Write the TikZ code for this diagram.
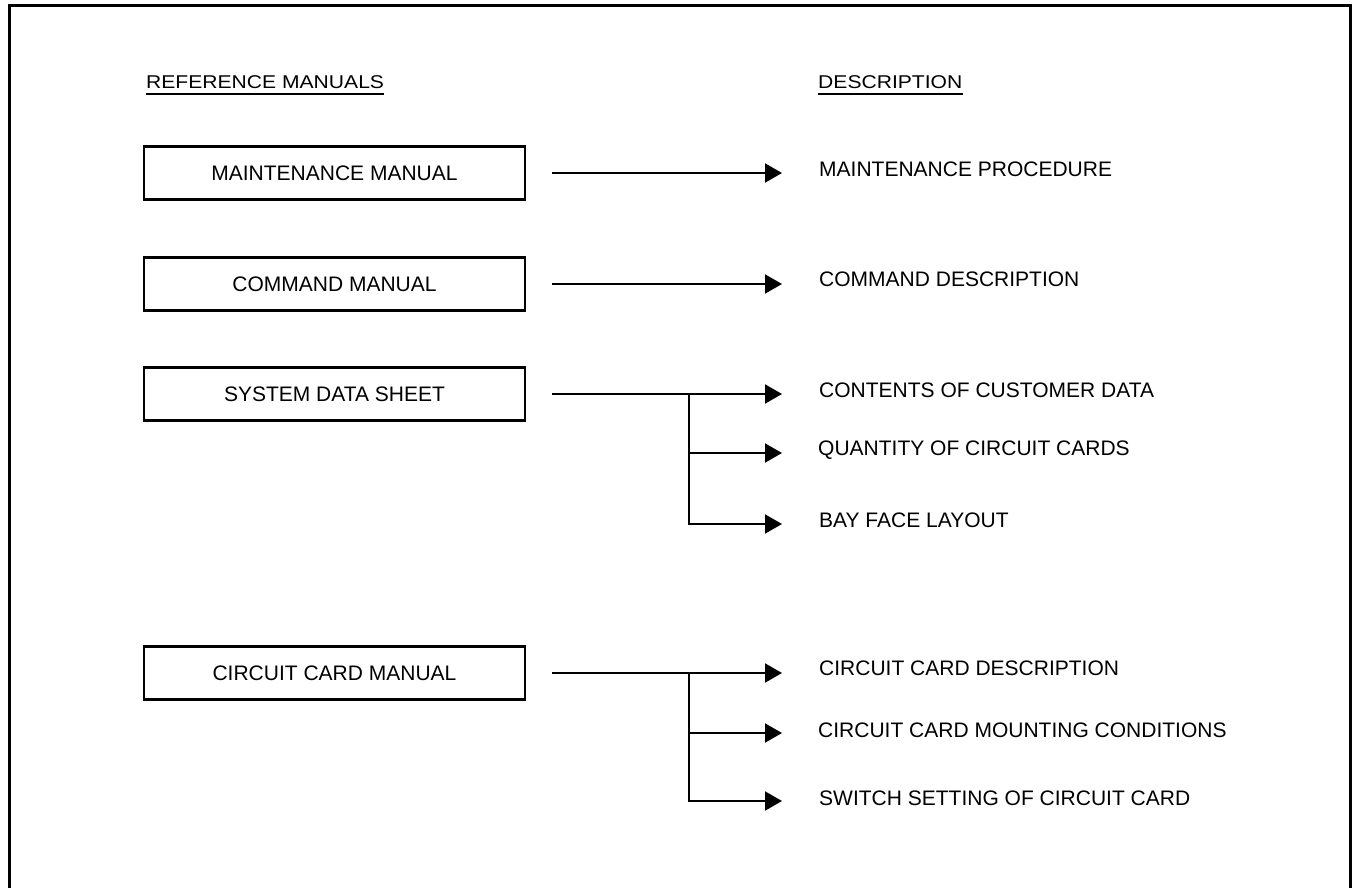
\documentclass[tikz,border=0pt]{standalone}
\usepackage{fontspec}
\setmainfont{Liberation Sans}
\newfontfamily\hdrfont[FakeStretch=1.14]{Liberation Sans}
\usetikzlibrary{arrows.meta}

\tikzset{
  manualbox/.style={draw, line width=2.4pt, minimum width=381pt, minimum height=53pt,
    inner sep=0pt, font=\fontsize{21}{25}\selectfont},
  desc/.style={anchor=west, inner sep=0pt, font=\fontsize{21}{25}\selectfont},
  header/.style={anchor=base west, inner sep=0pt, font=\hdrfont\fontsize{18.5}{22}\selectfont},
  conn/.style={line width=2pt, -{Triangle[length=17pt,width=19pt]}},
  trunk/.style={line width=2pt},
  frame/.style={line width=3pt}
}

\begin{document}
\begin{tikzpicture}[x=1pt, y=-1pt]
  \useasboundingbox (0,0) rectangle (1354,888);
  \clip (0,0) rectangle (1354,888);

  % open frame around the chart
  \draw[frame] (9,895) -- (9,6) -- (1350,6) -- (1350,895);

  % column headings
  \node[header] (hleft) at (146,89) {REFERENCE MANUALS};
  \node[header] (hright) at (818,89) {DESCRIPTION};
  \draw[line width=1.4pt] ([yshift=-5pt]hleft.base west) -- ([yshift=-5pt]hleft.base east);
  \draw[line width=1.4pt] ([yshift=-5pt]hright.base west) -- ([yshift=-5pt]hright.base east);

  % manuals
  \node[manualbox] (mm) at (334.5,173) {MAINTENANCE MANUAL};
  \node[manualbox] (cm) at (334.5,284) {COMMAND MANUAL};
  \node[manualbox] (sd) at (334.5,394) {SYSTEM DATA SHEET};
  \node[manualbox] (cc) at (334.5,673) {CIRCUIT CARD MANUAL};

  % descriptions
  \node[desc] (d1) at (819,169) {MAINTENANCE PROCEDURE};
  \node[desc] (d2) at (819,279) {COMMAND DESCRIPTION};
  \node[desc] (d3) at (819,390) {CONTENTS OF CUSTOMER DATA};
  \node[desc] (d4) at (818,450) {QUANTITY OF CIRCUIT CARDS};
  \node[desc] (d5) at (819,520) {BAY FACE LAYOUT};
  \node[desc] (d6) at (819,668) {CIRCUIT CARD DESCRIPTION};
  \node[desc] (d7) at (818,730) {CIRCUIT CARD MOUNTING CONDITIONS};
  \node[desc] (d8) at (819,798) {SWITCH SETTING OF CIRCUIT CARD};

  % arrow tips and branch points
  \coordinate (t1) at (782,173);
  \coordinate (t2) at (782,284);
  \coordinate (t3) at (782,394);
  \coordinate (t4) at (782,453);
  \coordinate (t5) at (782,524);
  \coordinate (t6) at (782,673);
  \coordinate (t7) at (782,733);
  \coordinate (t8) at (782,801);
  \coordinate (sj) at (689,394);
  \coordinate (cj) at (689,673);

  % connectors
  \draw[conn] ([xshift=26pt]mm.east) -- (t1);
  \draw[conn] ([xshift=26pt]cm.east) -- (t2);

  \draw[conn] ([xshift=26pt]sd.east) -- (t3);
  \draw[trunk] (sj) -- (sj |- t5);
  \draw[conn] (sj |- t4) -- (t4);
  \draw[conn] ([xshift=-1pt]sj |- t5) -- (t5);

  \draw[conn] ([xshift=26pt]cc.east) -- (t6);
  \draw[trunk] (cj) -- (cj |- t8);
  \draw[conn] (cj |- t7) -- (t7);
  \draw[conn] ([xshift=-1pt]cj |- t8) -- (t8);
\end{tikzpicture}
\end{document}
